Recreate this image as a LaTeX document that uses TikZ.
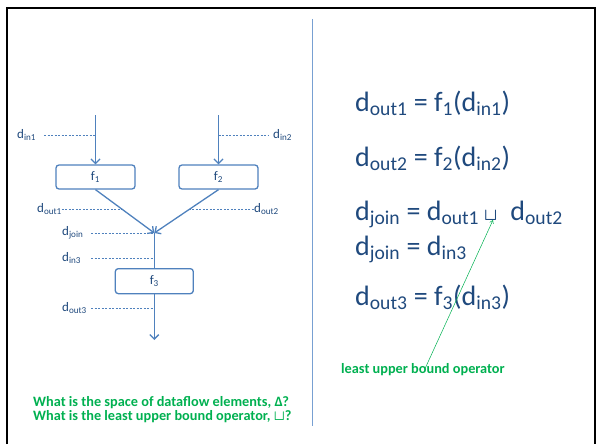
\documentclass[tikz,border=0pt]{standalone}
\usepackage{fontspec}
\setmainfont{Carlito}
\usepackage{amsmath,amssymb}
\usetikzlibrary{arrows.meta,positioning}
\definecolor{FlowBlue}{RGB}{79,129,189}
\definecolor{TextBlue}{RGB}{31,73,125}
\definecolor{NoteGreen}{RGB}{0,176,80}
\definecolor{RuleBlue}{RGB}{120,160,210}

\newcommand{\dsub}[1]{d\textsubscript{#1}}
\newcommand{\lubsym}{{\fontsize{19}{19}\selectfont\boldmath$\sqcup$}}

\begin{document}
\begin{tikzpicture}[x=1pt, y=-1pt,
    fbox/.style   = {rectangle, rounded corners=3pt,
                     draw=FlowBlue, line width=1.3pt, fill=white,
                     minimum width=79pt, minimum height=24pt,
                     inner sep=0pt, text=TextBlue,
                     font=\fontsize{13}{15}\selectfont},
    dlabel/.style = {anchor=west, inner sep=0pt, text=TextBlue,
                     font=\fontsize{13}{15}\selectfont},
    eqn/.style    = {anchor=base west, inner sep=0pt, text=TextBlue,
                     font=\fontsize{28}{32}\selectfont},
    note/.style   = {inner sep=0pt, text=NoteGreen, align=left,
                     font=\fontsize{14.3}{14}\selectfont\bfseries},
    flow/.style   = {draw=FlowBlue, line width=1.3pt,
                     -{Straight Barb[length=4.5pt,width=9pt]}},
    link/.style   = {draw=FlowBlue, line width=1.3pt},
    guide/.style  = {draw=FlowBlue, line width=0.5pt,
                     dash pattern=on 2pt off 1.5pt},
    pointer/.style= {draw=NoteGreen, line width=0.5pt,
                     -{Straight Barb[length=3pt,width=4pt]}},
]
\useasboundingbox (0,0) rectangle (596,444);

% ─── Slide frame and divider ─────────────────────────────────────────────
\draw[line width=2.5pt, black] (7,444) -- (7,8) -- (595,8) -- (595,444);
\draw[RuleBlue, line width=0.8pt] (312,19) -- (312,426);

% ─── Transfer functions ──────────────────────────────────────────────────
\coordinate (in1top) at (95.5,115);
\coordinate (in2top) at (218.5,115);
\node[fbox] (f1) at (95.5,177) {f\textsubscript{1}};
\node[fbox] (f2) at (218.5,177) {f\textsubscript{2}};
\coordinate (join) at (154.3,233);
\node[fbox, minimum width=78pt, minimum height=25pt,
      below=35pt of join] (f3) {f\textsubscript{3}};
\coordinate (outend) at (154.3,340);

\draw[flow] (in1top) -- (f1.north);
\draw[flow] (in2top) -- (f2.north);
\draw[flow] (f1.south) -- (join);
\draw[flow] (f2.south) -- (join);
\draw[link] (join) -- (f3.north);
\draw[flow] (f3.south) -- (outend);

% ─── Dataflow value labels ───────────────────────────────────────────────
\coordinate (dashx) at (91,0);
\coordinate (dout1x) at (122.4,209);
\coordinate (dout2x) at (188.9,209);

\node[dlabel] (ldin1) at (17,135) {\dsub{in1}};
\draw[guide] ([xshift=8pt]ldin1.east) -- (ldin1.east -| in1top);

\node[dlabel] (ldin2) at (273,135) {\dsub{in2}};
\draw[guide] (ldin2.west -| in2top) -- ([xshift=-5pt]ldin2.west);

\node[dlabel] (ldout1) at (37,209) {\dsub{out1}};
\draw[guide] (ldout1.east) -- (dout1x);

\node[dlabel] (ldout2) at (254,209) {\dsub{out2}};
\draw[guide] (dout2x) -- (ldout2.west);

\node[dlabel] (ldjoin) at (62,233) {\dsub{join}};
\draw[guide] (ldjoin.east -| dashx) -- (ldjoin.east -| join);

\node[dlabel] (ldin3) at (62,258) {\dsub{in3}};
\draw[guide] (ldin3.east -| dashx) -- (ldin3.east -| join);

\node[dlabel] (ldout3) at (62,308) {\dsub{out3}};
\draw[guide] (ldout3.east -| dashx) -- (ldout3.east -| join);

% ─── Equations ───────────────────────────────────────────────────────────
\node[eqn] (eq1) at (355,111) {\dsub{out1} = f\textsubscript{1}(\dsub{in1})};
\node[eqn] (eq2) at (355,166) {\dsub{out2} = f\textsubscript{2}(\dsub{in2})};
\node[eqn] (eq3) at (355,220)
    {\dsub{join} = \dsub{out1}\hspace{5pt}\lubsym\hspace{13pt}\dsub{out2}};
\node[eqn] (eq4) at (355,255) {\dsub{join} = \dsub{in3}};
\node[eqn] (eq5) at (355,305) {\dsub{out3} = f\textsubscript{3}(\dsub{in3})};

% ─── Notes ───────────────────────────────────────────────────────────────
\coordinate (lubpt) at (493,220);
\node[note, anchor=base west] (lubnote) at (341,373)
    {least upper bound operator};
\draw[pointer] ([xshift=2pt,yshift=-6pt]lubnote.north) -- (lubpt);

\node[note, anchor=north west] (questions) at (33,396)
    {What is the space of dataflow elements, Δ?\\
     What is the least upper bound operator, {\boldmath$\sqcup$}?};

\end{tikzpicture}
\end{document}
